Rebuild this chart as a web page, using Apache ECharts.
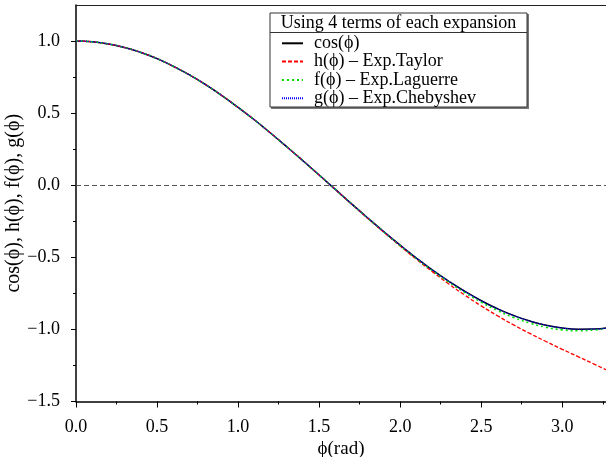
<!DOCTYPE html>
<html>
<head>
<meta charset="utf-8">
<script src="https://cdn.jsdelivr.net/npm/echarts@6/dist/echarts.min.js"></script>
<style>html,body{margin:0;padding:0;background:#fff}#c{width:606px;height:457px}</style>
</head>
<body>
<div id="c"></div>
<script>
// ---- data ----
const phiValues = [0,0.1,0.2,0.3,0.4,0.5,0.6,0.7,0.8,0.9,1.0,1.1,1.2,1.3,1.4,1.5,1.6,1.7,1.8,1.9,2.0,2.1,2.2,2.3,2.4,2.5,2.6,2.7,2.8,2.9,3.0,3.1,3.2,3.27];
const cosValues = [1,0.995,0.980,0.955,0.921,0.878,0.825,0.765,0.697,0.622,0.540,0.454,0.362,0.267,0.170,0.071,-0.029,-0.129,-0.227,-0.323,-0.416,-0.505,-0.589,-0.666,-0.737,-0.801,-0.857,-0.904,-0.942,-0.971,-0.990,-0.999,-0.998,-0.991];
const taylorValues = [1,0.995,0.980,0.955,0.921,0.878,0.825,0.765,0.697,0.622,0.540,0.454,0.362,0.267,0.170,0.070,-0.030,-0.131,-0.230,-0.327,-0.422,-0.514,-0.601,-0.685,-0.763,-0.837,-0.905,-0.969,-1.028,-1.084,-1.138,-1.190,-1.242,-1.280];
const laguerreValues = [1,0.995,0.980,0.955,0.921,0.878,0.825,0.765,0.697,0.622,0.540,0.454,0.362,0.267,0.170,0.071,-0.029,-0.129,-0.228,-0.325,-0.419,-0.509,-0.593,-0.672,-0.745,-0.811,-0.869,-0.917,-0.956,-0.985,-1.003,-1.009,-1.004,-0.994];
const chebyshevValues = [1,0.995,0.980,0.955,0.921,0.878,0.825,0.765,0.697,0.622,0.540,0.454,0.362,0.267,0.170,0.071,-0.029,-0.129,-0.227,-0.323,-0.416,-0.505,-0.589,-0.666,-0.737,-0.801,-0.857,-0.904,-0.942,-0.971,-0.990,-0.999,-0.998,-0.992];
const seriesNames = ['cos(\u03D5)', 'h(\u03D5) \u2013 Exp.Taylor', 'f(\u03D5) \u2013 Exp.Laguerre', 'g(\u03D5) \u2013 Exp.Chebyshev'];
const xTickLabels = [0, 0.5, 1.0, 1.5, 2.0, 2.5, 3.0];
const xMinorTicks = [0.25, 0.75, 1.25, 1.75, 2.25, 2.75, 3.25];
const yTickLabels = [-1.5, -1.0, -0.5, 0.0, 0.5, 1.0];
const yMinorTicks = [-1.25, -0.75, -0.25, 0.25, 0.75];
const legendTitle = 'Using 4 terms of each expansion';
const xName = '\u03D5(rad)';
const yName = 'cos(\u03D5), h(\u03D5), f(\u03D5), g(\u03D5)';

const FONT = '"Liberation Serif", "Times New Roman", serif';
const XMIN = 0, XMAX = 3.27, YMIN = -1.5, YMAX = 1.25;
const pairs = vals => phiValues.map((x, i) => [x, vals[i]]);

const chart = echarts.init(document.getElementById('c'), null, {renderer: 'canvas'});
const baseX = {type: 'value', min: XMIN, max: XMAX, splitLine: {show: false}};
const baseY = {type: 'value', min: YMIN, max: YMAX, splitLine: {show: false}};

chart.setOption({
  animation: false,
  backgroundColor: '#fff',
  grid: {left: 76, right: 0, top: 5, bottom: 55.5, containLabel: false, outerBoundsMode: 'none'},
  xAxis: [
    Object.assign({}, baseX, {
      position: 'bottom',
      name: xName, nameLocation: 'middle', nameGap: 38, nameMoveOverlap: false,
      nameTextStyle: {fontFamily: FONT, fontSize: 19, color: '#000', verticalAlign: 'top'},
      axisLine: {onZero: false, lineStyle: {color: '#000', width: 1.5}},
      axisTick: {length: 6, lineStyle: {color: '#000', width: 1}, customValues: xTickLabels},
      axisLabel: {customValues: xTickLabels, fontFamily: FONT, fontSize: 18, color: '#000', margin: 17,
        formatter: v => Number(v).toFixed(1)}
    }),
    Object.assign({}, baseX, {
      position: 'bottom',
      axisLine: {show: false, onZero: false},
      axisTick: {length: 3, lineStyle: {color: '#000', width: 1}, customValues: xMinorTicks},
      axisLabel: {show: false}
    }),
    Object.assign({}, baseX, {
      position: 'top',
      axisLine: {onZero: false, lineStyle: {color: '#222', width: 1}},
      axisTick: {show: false},
      axisLabel: {show: false}
    })
  ],
  yAxis: [
    Object.assign({}, baseY, {
      position: 'left',
      name: yName, nameLocation: 'middle', nameGap: 52, nameRotate: 90, nameMoveOverlap: false,
      nameTextStyle: {fontFamily: FONT, fontSize: 20, color: '#000', verticalAlign: 'bottom'},
      axisLine: {onZero: false, lineStyle: {color: '#000', width: 1.5}},
      axisTick: {length: 5, lineStyle: {color: '#000', width: 1}, customValues: yTickLabels},
      axisLabel: {customValues: yTickLabels, fontFamily: FONT, fontSize: 18, color: '#000', margin: 16,
        formatter: v => (v < 0 ? '\u2212' : '') + Math.abs(v).toFixed(1)}
    }),
    Object.assign({}, baseY, {
      position: 'left',
      axisLine: {show: false, onZero: false},
      axisTick: {length: 3, lineStyle: {color: '#000', width: 1}, customValues: yMinorTicks},
      axisLabel: {show: false}
    })
  ],
  legend: {
    orient: 'vertical', left: 281, top: 34.3, padding: 0, z: 20,
    itemWidth: 21, itemHeight: 14, itemGap: 0.3,
    itemStyle: {opacity: 0},
    textStyle: {fontFamily: FONT, fontSize: 18, lineHeight: 18, color: '#000', padding: [0, 0, 0, 6]},
    data: seriesNames
  },
  graphic: [
    {type: 'rect', shape: {x: 271, y: 14, width: 258, height: 95}, style: {fill: '#777'}, z: 5},
    {type: 'rect', shape: {x: 270, y: 13, width: 257, height: 94}, style: {fill: '#fff', stroke: '#333', lineWidth: 1}, z: 6},
    {type: 'line', shape: {x1: 270, y1: 32.5, x2: 527, y2: 32.5}, style: {stroke: '#333', lineWidth: 1}, z: 7},
    {type: 'text', x: 398.5, y: 23, style: {text: legendTitle, font: '18px ' + FONT, fill: '#000', align: 'center', verticalAlign: 'middle'}, z: 7}
  ],
  series: [
    {name: seriesNames[0], type: 'line', data: pairs(cosValues), smooth: true, showSymbol: false, symbol: 'none',
      lineStyle: {color: '#000', width: 1.5}, itemStyle: {color: '#000'},
      markLine: {silent: true, symbol: 'none', label: {show: false},
        lineStyle: {color: '#555', width: 1, type: [5, 3]}, data: [{yAxis: 0}]}},
    {name: seriesNames[1], type: 'line', data: pairs(taylorValues), smooth: true, showSymbol: false, symbol: 'none',
      lineStyle: {color: '#ff0000', width: 1.3, type: [4, 2]}, itemStyle: {color: '#ff0000'}},
    {name: seriesNames[2], type: 'line', data: pairs(laguerreValues), smooth: true, showSymbol: false, symbol: 'none',
      lineStyle: {color: '#00dd00', width: 1.6, type: [2, 3]}, itemStyle: {color: '#00dd00'}},
    {name: seriesNames[3], type: 'line', data: pairs(chebyshevValues), smooth: true, showSymbol: false, symbol: 'none',
      lineStyle: {color: '#0000ff', width: 1.2, type: [1, 1]}, itemStyle: {color: '#0000ff'}}
  ]
});
</script>
</body>
</html>
